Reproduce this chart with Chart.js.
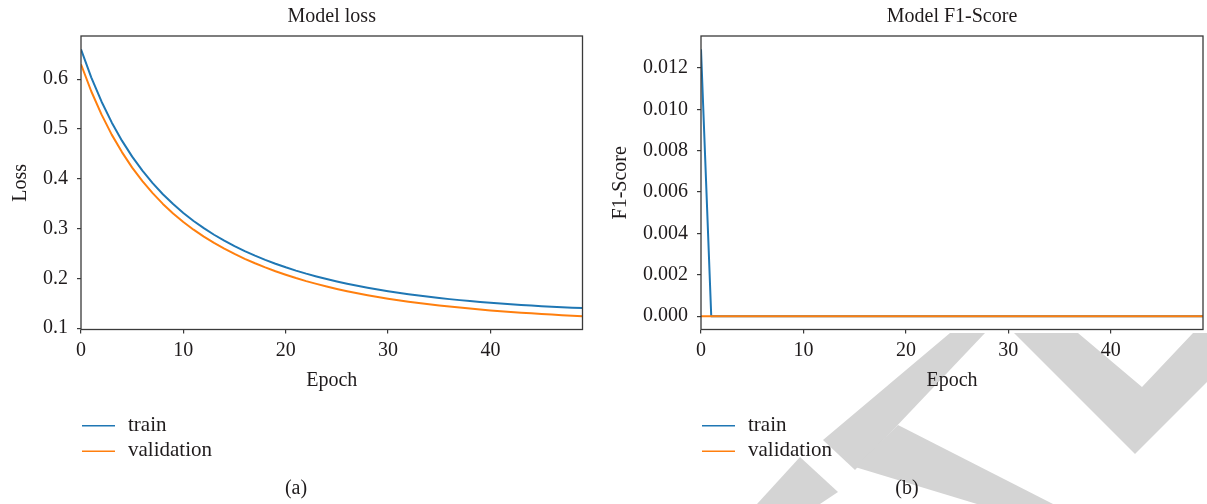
<!DOCTYPE html>
<html>
<head>
<meta charset="utf-8">
<title>Model loss and F1-Score</title>
<script src="https://cdn.jsdelivr.net/npm/chart.js@4.4.1/dist/chart.umd.min.js"></script>
<style>
  html, body { margin: 0; padding: 0; background: #ffffff; }
  #wrap { position: relative; width: 1207px; height: 504px; overflow: hidden; background: #ffffff; }
  #wrap canvas { position: absolute; top: 0; }
  #lossChart { left: 0; }
  #f1Chart { left: 600px; }
</style>
</head>
<body>
<div id="wrap">
  <canvas id="lossChart" width="600" height="504"></canvas>
  <canvas id="f1Chart" width="607" height="504"></canvas>
</div>
<script>
// ---- data -------------------------------------------------------------
const epochs = [0, 1, 2, 3, 4, 5, 6, 7, 8, 9,
  10, 11, 12, 13, 14, 15, 16, 17, 18, 19,
  20, 21, 22, 23, 24, 25, 26, 27, 28, 29,
  30, 31, 32, 33, 34, 35, 36, 37, 38, 39,
  40, 41, 42, 43, 44, 45, 46, 47, 48, 49];

const lossTrain = [0.6600, 0.6038, 0.5553, 0.5132, 0.4766, 0.4445, 0.4163, 0.3912, 0.3690, 0.3492,
  0.3313, 0.3153, 0.3008, 0.2876, 0.2757, 0.2647, 0.2547, 0.2456, 0.2372, 0.2294,
  0.2222, 0.2156, 0.2095, 0.2039, 0.1987, 0.1938, 0.1893, 0.1851, 0.1812, 0.1776,
  0.1742, 0.1711, 0.1682, 0.1654, 0.1629, 0.1605, 0.1583, 0.1563, 0.1544, 0.1526,
  0.1510, 0.1494, 0.1480, 0.1466, 0.1454, 0.1442, 0.1431, 0.1421, 0.1412, 0.1403];

const lossVal = [0.6300, 0.5758, 0.5293, 0.4887, 0.4536, 0.4225, 0.3953, 0.3712, 0.3495, 0.3302,
  0.3133, 0.2978, 0.2838, 0.2711, 0.2597, 0.2490, 0.2392, 0.2303, 0.2220, 0.2143,
  0.2072, 0.2006, 0.1945, 0.1889, 0.1837, 0.1788, 0.1743, 0.1701, 0.1662, 0.1626,
  0.1592, 0.1561, 0.1532, 0.1504, 0.1479, 0.1455, 0.1433, 0.1413, 0.1393, 0.1374,
  0.1357, 0.1340, 0.1325, 0.1310, 0.1297, 0.1284, 0.1272, 0.1261, 0.1251, 0.1241];

const f1Train = [0.0129, 0, 0, 0, 0, 0, 0, 0, 0, 0,
  0, 0, 0, 0, 0, 0, 0, 0, 0, 0,
  0, 0, 0, 0, 0, 0, 0, 0, 0, 0,
  0, 0, 0, 0, 0, 0, 0, 0, 0, 0,
  0, 0, 0, 0, 0, 0, 0, 0, 0, 0];

const f1Val = [0, 0, 0, 0, 0, 0, 0, 0, 0, 0,
  0, 0, 0, 0, 0, 0, 0, 0, 0, 0,
  0, 0, 0, 0, 0, 0, 0, 0, 0, 0,
  0, 0, 0, 0, 0, 0, 0, 0, 0, 0,
  0, 0, 0, 0, 0, 0, 0, 0, 0, 0];

const epochTicks = [0, 10, 20, 30, 40];
const lossTicks = [0.1, 0.2, 0.3, 0.4, 0.5, 0.6];
const f1Ticks = [0, 0.002, 0.004, 0.006, 0.008, 0.010, 0.012];
const seriesNames = ['train', 'validation'];

// ---- styling ----------------------------------------------------------
const SERIF = '"Liberation Serif", "DejaVu Serif", serif';
const INK = '#1f1b1c';
const AXIS = '#3a3a3a';
const seriesColors = ['#1f77b4', '#ff7f0e'];

Chart.defaults.font.family = SERIF;
Chart.defaults.font.size = 20;
Chart.defaults.color = INK;

// box around the plotting area (all four spines)
const framePlugin = {
  id: 'frame',
  afterDatasetsDraw(chart, args, opts) {
    const { ctx, chartArea: a } = chart;
    ctx.save();
    ctx.strokeStyle = opts.color;
    ctx.lineWidth = opts.width;
    ctx.strokeRect(a.left, a.top, a.right - a.left, a.bottom - a.top);
    ctx.restore();
  }
};

// stacked legend under the axes plus the panel caption
const sideLegendPlugin = {
  id: 'sideLegend',
  afterDraw(chart, args, opts) {
    const { ctx, chartArea: a } = chart;
    ctx.save();
    ctx.textAlign = 'left';
    ctx.textBaseline = 'middle';
    ctx.fillStyle = INK;
    ctx.font = '21px ' + SERIF;
    chart.data.datasets.forEach((ds, i) => {
      const y = opts.top + i * opts.gap;
      ctx.strokeStyle = ds.borderColor;
      ctx.lineWidth = 1.5;
      ctx.beginPath();
      ctx.moveTo(a.left + 1, y);
      ctx.lineTo(a.left + 34, y);
      ctx.stroke();
      ctx.fillText(ds.label, a.left + 47, y - 0.5);
    });
    ctx.font = '20px ' + SERIF;
    ctx.textAlign = 'center';
    ctx.fillText(opts.caption, opts.captionX, opts.captionY);
    ctx.restore();
  }
};

// light grey background stamp below the axes
const stampPlugin = {
  id: 'stamp',
  beforeDraw(chart, args, opts) {
    if (!opts.shapes || !opts.shapes.length) return;
    const { ctx, chartArea: a } = chart;
    ctx.save();
    ctx.beginPath();
    ctx.rect(0, a.bottom + 2, chart.width, chart.height);
    ctx.clip();
    ctx.fillStyle = opts.color;
    opts.shapes.forEach(poly => {
      ctx.beginPath();
      poly.forEach(([x, y], k) => (k ? ctx.lineTo(x, y) : ctx.moveTo(x, y)));
      ctx.closePath();
      ctx.fill();
    });
    ctx.restore();
  }
};

function makePanel(canvasId, cfg) {
  return new Chart(document.getElementById(canvasId), {
    type: 'line',
    data: {
      labels: epochs,
      datasets: [
        { label: seriesNames[0], data: cfg.train, borderColor: seriesColors[0], backgroundColor: seriesColors[0], order: 1 },
        { label: seriesNames[1], data: cfg.val, borderColor: seriesColors[1], backgroundColor: seriesColors[1], order: 0 }
      ]
    },
    options: {
      responsive: false,
      animation: false,
      events: [],
      layout: { padding: { left: 0, top: 0, right: cfg.padRight, bottom: 110.5 } },
      elements: {
        point: { radius: 0 },
        line: { borderWidth: 2, tension: 0, borderJoinStyle: 'round', fill: false }
      },
      plugins: {
        legend: { display: false },
        tooltip: { enabled: false },
        title: {
          display: true,
          text: cfg.title,
          fullSize: false,
          color: INK,
          font: { size: 20, weight: 'normal', lineHeight: 1.2 },
          padding: { top: 4.5, bottom: 7.5 }
        },
        frame: { color: AXIS, width: 1.3 },
        sideLegend: { top: 425.7, gap: 25.6, caption: cfg.caption, captionX: cfg.captionX, captionY: 489 },
        stamp: { color: '#d4d4d4', shapes: cfg.stamp || [] }
      },
      scales: {
        x: {
          type: 'linear',
          min: 0,
          max: 49,
          bounds: 'data',
          border: { display: false },
          grid: { display: true, drawOnChartArea: false, drawTicks: true, tickLength: 4, color: AXIS, lineWidth: 1.2 },
          ticks: { padding: 5, color: INK, font: { size: 20 }, callback: v => String(v) },
          title: { display: true, text: 'Epoch', color: INK, font: { size: 20, lineHeight: 1.2 }, padding: { top: 0, bottom: 1 } },
          afterBuildTicks: s => { s.ticks = epochTicks.map(v => ({ value: v })); },
          afterFit: s => { s.height = 64; }
        },
        y: {
          type: 'linear',
          min: cfg.yMin,
          max: cfg.yMax,
          bounds: 'data',
          border: { display: false },
          grid: { display: true, drawOnChartArea: false, drawTicks: true, tickLength: 4, color: AXIS, lineWidth: 1.2 },
          ticks: { padding: 9, color: INK, font: { size: 20 }, callback: v => Number(v).toFixed(cfg.decimals) },
          title: { display: true, text: cfg.yTitle, color: INK, font: { size: 20, lineHeight: 1.2 }, padding: { top: 8.5, bottom: 0 } },
          afterBuildTicks: s => { s.ticks = cfg.yTicks.map(v => ({ value: v })); },
          afterFit: s => { s.width = cfg.yWidth; }
        }
      }
    },
    plugins: [stampPlugin, framePlugin, sideLegendPlugin]
  });
}

makePanel('lossChart', {
  title: 'Model loss',
  yTitle: 'Loss',
  train: lossTrain,
  val: lossVal,
  yMin: 0.0973,
  yMax: 0.6868,
  yTicks: lossTicks,
  decimals: 1,
  yWidth: 81,
  padRight: 17.5,
  caption: '(a)',
  captionX: 296
});

makePanel('f1Chart', {
  title: 'Model F1-Score',
  yTitle: 'F1-Score',
  train: f1Train,
  val: f1Val,
  yMin: -0.000645,
  yMax: 0.013545,
  yTicks: f1Ticks,
  decimals: 3,
  yWidth: 101,
  padRight: 4,
  caption: '(b)',
  captionX: 307,
  stamp: [
    [[350, 333], [385, 333], [255, 470], [223, 440]],
    [[298, 425], [453, 504], [377, 504], [255, 467]],
    [[200, 457], [238, 492], [220, 504], [157, 504]],
    [[414, 333], [535, 454], [607, 382], [607, 333], [593, 333], [542, 387], [478, 333]]
  ]
});
</script>
</body>
</html>
